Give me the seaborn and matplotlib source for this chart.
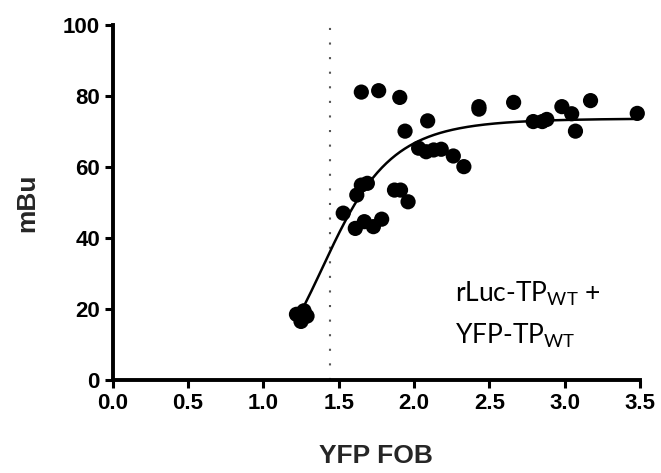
import numpy as np
import pandas as pd
import matplotlib
matplotlib.use("Agg")
import matplotlib.pyplot as plt
import seaborn as sns

# Measured BRET saturation points
yfp_fob = [1.22, 1.25, 1.27, 1.29,
           1.53, 1.62, 1.65, 1.69,
           1.61, 1.67, 1.73, 1.785,
           1.65, 1.765, 1.905,
           1.87, 1.91, 1.94, 1.96,
           2.03, 2.08, 2.09, 2.13, 2.18, 2.26, 2.33,
           2.43, 2.43, 2.66,
           2.79, 2.85, 2.88, 2.98, 3.045, 3.07, 3.17, 3.48]
mbu = [18.5, 16.5, 19.5, 18.0,
       47.0, 52.1, 54.9, 55.4,
       42.7, 44.6, 43.2, 45.3,
       81.1, 81.5, 79.6,
       53.5, 53.5, 70.1, 50.2,
       65.3, 64.3, 73.0, 64.8, 65.0, 63.1, 60.1,
       76.3, 77.0, 78.2,
       72.8, 72.8, 73.4, 77.0, 75.0, 70.1, 78.7, 75.1]

# Hill-type saturation fit parameters
bmax = 73.7
k_half = 1.45
hill_n = 7.0
bret50_line = 1.44

x_ticks = [0.0, 0.5, 1.0, 1.5, 2.0, 2.5, 3.0, 3.5]
y_ticks = [0, 20, 40, 60, 80, 100]

sns.set_style("ticks")
plt.rcParams["font.family"] = ["Liberation Sans", "DejaVu Sans"]
plt.rcParams["mathtext.fontset"] = "custom"
plt.rcParams["mathtext.rm"] = "Lato"
plt.rcParams["mathtext.it"] = "Lato"

points = pd.DataFrame({"YFP FOB": yfp_fob, "mBu": mbu})
x_fit = np.linspace(min(yfp_fob), max(yfp_fob), 300)
y_fit = bmax * x_fit ** hill_n / (k_half ** hill_n + x_fit ** hill_n)
fit = pd.DataFrame({"YFP FOB": x_fit, "mBu": y_fit})

fig = plt.figure(figsize=(6.61, 4.73), dpi=100)
ax = fig.add_axes([112.5 / 661, 1 - 380 / 473, (640.3 - 112.5) / 661, (380 - 25) / 473])

ax.axvline(bret50_line, ymin=0, ymax=1, color="#555555", lw=1.5,
           linestyle=(0, (1, 6)), zorder=1)
sns.lineplot(data=fit, x="YFP FOB", y="mBu", ax=ax, color="black", lw=1.8, zorder=2)
sns.scatterplot(data=points, x="YFP FOB", y="mBu", ax=ax, color="black", s=120,
                edgecolor="none", linewidth=0, zorder=3, clip_on=False)

ax.set_xlim(0, 3.5)
ax.set_ylim(0, 100)
ax.set_xticks(x_ticks)
ax.set_xticklabels([f"{t:.1f}" for t in x_ticks])
ax.set_yticks(y_ticks)
ax.set_yticklabels([str(t) for t in y_ticks])

for side in ("top", "right"):
    ax.spines[side].set_visible(False)
for side in ("left", "bottom"):
    ax.spines[side].set_linewidth(2.8)
    ax.spines[side].set_color("black")
    ax.spines[side].set_capstyle("projecting")

ax.tick_params(axis="both", length=6, width=2.2, color="black", pad=3,
               labelsize=16, labelcolor="black")
for lab in ax.get_xticklabels() + ax.get_yticklabels():
    lab.set_fontweight("bold")

ax.set_xlabel("YFP FOB", fontsize=19, fontweight="bold", labelpad=22)
ax.set_ylabel("mBu", fontsize=19, fontweight="bold", labelpad=17)

ax.text(2.27, 22.0, r"rLuc-TP$_{\mathrm{WT}}$ +", fontsize=19, family="Lato",
        va="baseline", ha="left", color="black")
ax.text(2.27, 10.1, r"YFP-TP$_{\mathrm{WT}}$", fontsize=19, family="Lato",
        va="baseline", ha="left", color="black")

fig.savefig("out.png", dpi=100)
